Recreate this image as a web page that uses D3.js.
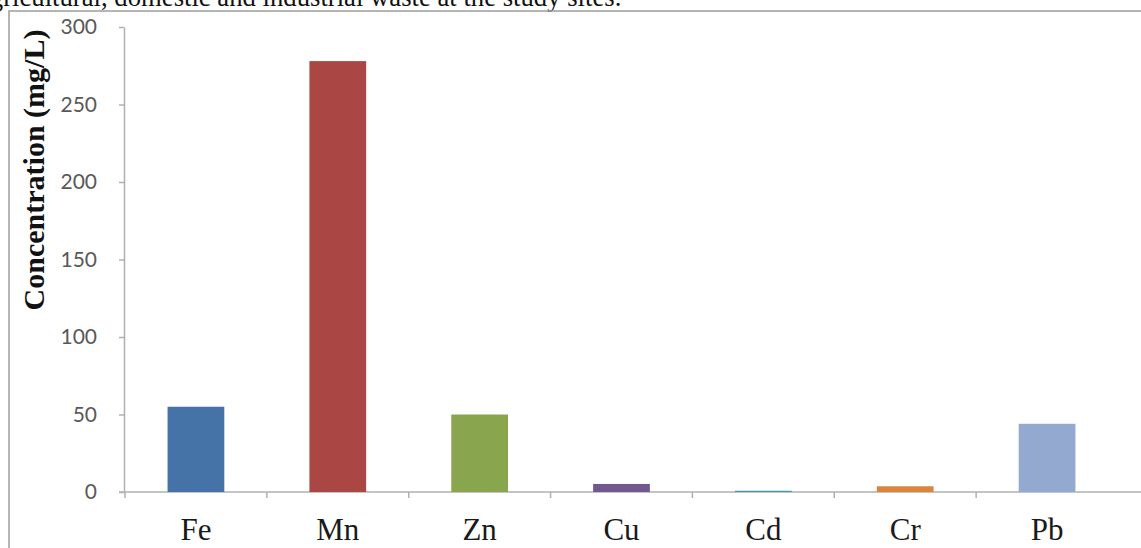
<!DOCTYPE html>
<html>
<head>
<meta charset="utf-8">
<script src="https://cdn.jsdelivr.net/npm/d3@7"></script>
<style>
  html, body { margin: 0; padding: 0; background: #fff; overflow: hidden; }
  svg { display: block; }
</style>
</head>
<body>
<div id="chart"></div>
<script>
// data
var metals = ['Fe', 'Mn', 'Zn', 'Cu', 'Cd', 'Cr', 'Pb'];
var concentrations = [55, 278, 50, 5.2, 0.8, 3.7, 44];
var barColors = ['#4572A7', '#AA4643', '#89A54E', '#71588F', '#4198AF', '#DB843D', '#93A9CF'];
var yTicks = [0, 50, 100, 150, 200, 250, 300];
var captionText = 'agricultural, domestic and industrial waste at the study sites.';
var yTitle = 'Concentration (mg/L)';

var w = 1141;
var h = 548;

var svg = d3.select('#chart').append('svg')
  .attr('width', w)
  .attr('height', h);

// caption line cut off at the top of the picture
svg.append('text')
  .attr('x', -22)
  .attr('y', 6)
  .style('font-family', '"Liberation Serif", "Times New Roman", serif')
  .style('font-size', '26.7px')
  .attr('fill', '#111')
  .text(captionText);

// chart frame
svg.append('rect')
  .attr('x', 9)
  .attr('y', 11)
  .attr('width', w + 20)
  .attr('height', h + 20)
  .attr('fill', 'none')
  .attr('stroke', '#a3a3a3')
  .attr('stroke-width', 1.6);

var x = d3.scaleBand()
  .domain(metals)
  .range([125, 1118])
  .paddingInner(0.6)
  .paddingOuter(0.3);

var y = d3.scaleLinear()
  .domain([0, 300])
  .range([492, 27]);

var axisColor = '#b0b0b0';

// y axis
var yAxis = svg.append('g')
  .attr('transform', 'translate(124,0)')
  .call(d3.axisLeft(y).tickValues(yTicks).tickSize(5).tickPadding(22).tickSizeOuter(0));
yAxis.select('.domain').attr('stroke', axisColor).attr('stroke-width', 1.5);
yAxis.selectAll('.tick line').attr('stroke', axisColor).attr('stroke-width', 1.5);
yAxis.selectAll('.tick text')
  .attr('fill', '#595959')
  .style('font-family', 'Lato, "Open Sans", sans-serif')
  .style('font-size', '21px');

// x axis line + ticks between categories
var step = x.step();
var bounds = metals.map(function (m) { return x(m) - (step - x.bandwidth()) / 2; });
svg.append('line')
  .attr('x1', 119).attr('x2', w)
  .attr('y1', y(0)).attr('y2', y(0))
  .attr('stroke', axisColor).attr('stroke-width', 1.5);
svg.selectAll('.xtick')
  .data(bounds)
  .enter().append('line')
  .attr('class', 'xtick')
  .attr('x1', function (d) { return d; })
  .attr('x2', function (d) { return d; })
  .attr('y1', y(0))
  .attr('y2', y(0) + 6)
  .attr('stroke', axisColor).attr('stroke-width', 1.5);

var xAxis = svg.append('g')
  .attr('transform', 'translate(0,' + y(0) + ')')
  .call(d3.axisBottom(x).tickSize(0).tickPadding(26));
xAxis.select('.domain').remove();
xAxis.selectAll('.tick text')
  .attr('fill', '#1a1a1a')
  .style('font-family', '"Liberation Serif", "Times New Roman", serif')
  .style('font-size', '31px');

// bars
svg.selectAll('.bar')
  .data(concentrations)
  .enter().append('rect')
  .attr('class', 'bar')
  .attr('x', function (d, i) { return x(metals[i]); })
  .attr('width', x.bandwidth())
  .attr('y', function (d) { return y(d); })
  .attr('height', function (d) { return y(0) - y(d); })
  .attr('fill', function (d, i) { return barColors[i]; });

// y axis title
svg.append('text')
  .attr('transform', 'translate(44,170) rotate(-90)')
  .attr('text-anchor', 'middle')
  .style('font-family', '"Liberation Serif", "Times New Roman", serif')
  .style('font-weight', 'bold')
  .style('font-size', '30px')
  .attr('fill', '#111')
  .text(yTitle);
</script>
</body>
</html>
